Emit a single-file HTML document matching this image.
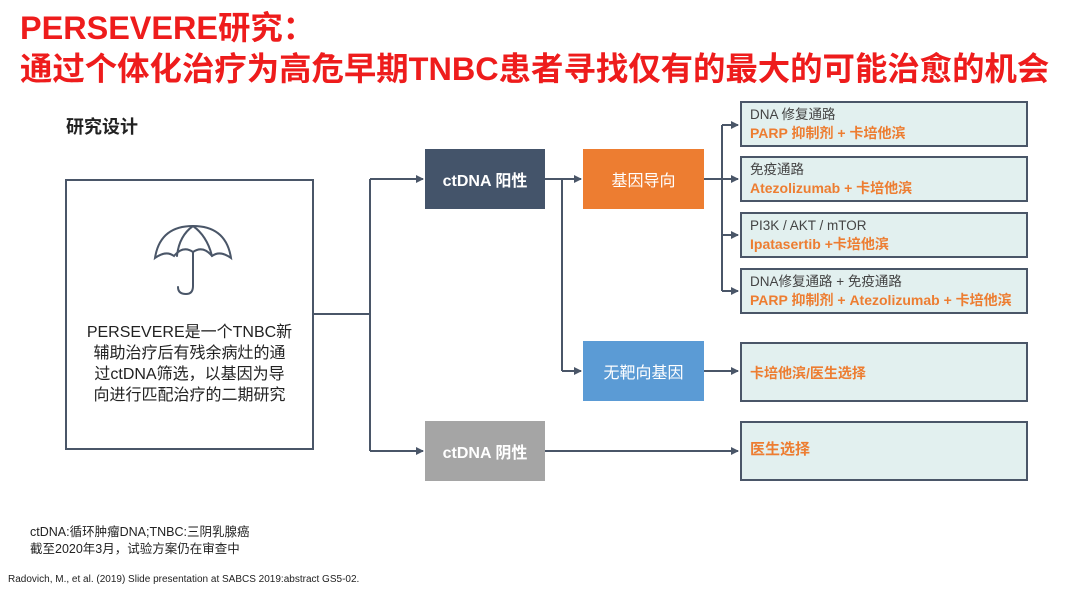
<!DOCTYPE html>
<html><head><meta charset="utf-8"><style>
body{margin:0;width:1080px;height:590px;background:#fff;position:relative;overflow:hidden;font-family:"Liberation Sans","Noto Sans CJK SC",sans-serif}
.a{position:absolute}
.t{color:#ee1c1c;font-weight:bold;font-size:32.4px;left:20px;white-space:nowrap}
.rb{position:absolute;left:740px;width:288px;background:#e2f0ef;border:2px solid #4a5668;box-sizing:border-box;padding:3px 8px;font-size:13.5px;line-height:18px;color:#444}
.rb b{color:#ed7d31;font-size:14px}
.nb{position:absolute;display:flex;align-items:center;justify-content:center;color:#fff;font-size:16px}
</style></head><body>
<div class="a t" style="top:2px">PERSEVERE研究：</div>
<div class="a t" style="top:43px">通过个体化治疗为高危早期TNBC患者寻找仅有的最大的可能治愈的机会</div>
<div class="a" style="left:66px;top:113px;font-size:18px;font-weight:bold;color:#222">研究设计</div>
<div class="a" style="left:65px;top:179px;width:249px;height:271px;border:2px solid #4a5668;box-sizing:border-box"></div>
<svg class="a" style="left:0;top:0" width="1080" height="590">
<defs><marker id="m" markerWidth="8" markerHeight="8" refX="7" refY="4" orient="auto" markerUnits="userSpaceOnUse"><path d="M0,0L8,4L0,8z" fill="#4a5668"/></marker></defs>
<g stroke="#4a5668" stroke-width="2" fill="none">
<path d="M314,314H370M370,179V451"/>
<path d="M370,179H423" marker-end="url(#m)"/>
<path d="M370,451H423" marker-end="url(#m)"/>
<path d="M545,179H581" marker-end="url(#m)"/>
<path d="M562,179V371"/>
<path d="M562,371H581" marker-end="url(#m)"/>
<path d="M704,179H722M722,125V291"/>
<path d="M722,125H738" marker-end="url(#m)"/>
<path d="M722,179H738" marker-end="url(#m)"/>
<path d="M722,235H738" marker-end="url(#m)"/>
<path d="M722,291H738" marker-end="url(#m)"/>
<path d="M704,371H738" marker-end="url(#m)"/>
<path d="M545,451H738" marker-end="url(#m)"/>
</g>
<g stroke="#4a5668" stroke-width="2" fill="none" stroke-linecap="round">
<path d="M155,258Q160,226 193,226Q226,226 231,258Q220,250 212,256Q203,245 193,252Q183,245 174,256Q166,250 155,258Z"/>
<path d="M193,226Q179,236 177,256M193,226Q207,236 212,256M193,252V286Q193,294 186,294Q178,294 178,287"/>
</g>
</svg>
<div class="a" style="left:65px;top:322px;width:249px;text-align:center;font-size:16px;line-height:21px;color:#222;white-space:nowrap">PERSEVERE是一个TNBC新<br>辅助治疗后有残余病灶的通<br>过ctDNA筛选，以基因为导<br>向进行匹配治疗的二期研究</div>
<div class="nb" style="left:425px;top:149px;width:120px;height:60px;background:#44546a;font-weight:bold">ctDNA 阳性</div>
<div class="nb" style="left:425px;top:421px;width:120px;height:60px;background:#a5a5a5;font-weight:bold">ctDNA 阴性</div>
<div class="nb" style="left:583px;top:149px;width:121px;height:60px;background:#ed7d31">基因导向</div>
<div class="nb" style="left:583px;top:341px;width:121px;height:60px;background:#5b9bd5">无靶向基因</div>
<div class="rb" style="top:101px;height:46px">DNA 修复通路<br><b>PARP 抑制剂 + 卡培他滨</b></div>
<div class="rb" style="top:156px;height:46px">免疫通路<br><b>Atezolizumab + 卡培他滨</b></div>
<div class="rb" style="top:212px;height:46px">PI3K / AKT / mTOR<br><b>Ipatasertib +卡培他滨</b></div>
<div class="rb" style="top:268px;height:46px">DNA修复通路 + 免疫通路<br><b>PARP 抑制剂 + Atezolizumab + 卡培他滨</b></div>
<div class="rb" style="top:342px;height:60px;padding-top:20px"><b>卡培他滨/医生选择</b></div>
<div class="rb" style="top:421px;height:60px;padding-top:18px"><b style="font-size:15px">医生选择</b></div>
<div class="a" style="left:30px;top:524px;font-size:12.5px;line-height:17px;color:#222">ctDNA:循环肿瘤DNA;TNBC:三阴乳腺癌<br>截至2020年3月，试验方案仍在审查中</div>
<div class="a" style="left:8px;top:574px;font-size:10px;color:#222">Radovich, M., et al. (2019) Slide presentation at SABCS 2019:abstract GS5-02.</div>
</body></html>
